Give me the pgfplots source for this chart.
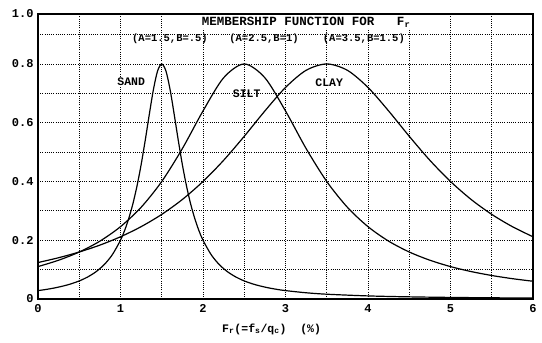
\documentclass[border=0pt]{standalone}
\usepackage{fontspec}
\setmainfont{Liberation Mono}
\usepackage{pgfplots}
\pgfplotsset{compat=1.18}
\begin{document}
\begin{tikzpicture}
\begin{axis}[
  scale only axis, width=495pt, height=285pt,
  xmin=0, xmax=6, ymin=0, ymax=0.97,
  axis line style={line width=1.5pt},
  xtick={0,1,2,3,4,5,6},
  minor xtick={0.5,1.5,2.5,3.5,4.5,5.5},
  ytick={0,0.2,0.4,0.6,0.8}, yticklabels={0,0.2,0.4,0.6,0.8},
  minor ytick={0.1,0.3,0.5,0.7,0.9},
  extra y ticks={0.97}, extra y tick labels={1.0},
  extra y tick style={grid=none},
  grid=both,
  major grid style={black, line width=0.9pt, dash pattern=on 0.9pt off 1.3pt},
  minor grid style={black, line width=0.9pt, dash pattern=on 0.9pt off 1.3pt},
  major tick length=0pt, minor tick length=0pt,
  tick style={draw=none},
  /pgf/number format/assume math mode=true,
  ticklabel style={font=\bfseries\fontsize{12}{12}\selectfont},
  xticklabel style={yshift=-2pt},
  yticklabel style={xshift=-1pt},
  xlabel={F\textsubscript{r}(=f\textsubscript{s}/q\textsubscript{c})\ \ (\%)},
  xlabel style={font=\bfseries\fontsize{11.5}{11.5}\selectfont, at={(axis description cs:0.472,0)}, anchor=center, yshift=-30pt},
  clip=false,
]
\coordinate (sw) at (rel axis cs:0,0);
\coordinate (ne) at (rel axis cs:1,1);
% SAND (A=1.5, B=.5)
\addplot[black, line width=1.2pt, smooth] coordinates {
(0,0.0286) (0.1,0.0326) (0.2,0.0376) (0.3,0.0438) (0.4,0.0515) (0.5,0.0615)
(0.6,0.0746) (0.7,0.0922) (0.8,0.1163) (0.9,0.1504) (1.0,0.2) (1.05,0.2332)
(1.1,0.274) (1.15,0.3239) (1.2,0.3846) (1.25,0.4571) (1.3,0.5405) (1.35,0.6299)
(1.4,0.7143) (1.45,0.7767) (1.5,0.8) (1.55,0.7767) (1.6,0.7143) (1.65,0.6299)
(1.7,0.5405) (1.75,0.4571) (1.8,0.3846) (1.85,0.3239) (1.9,0.274) (1.95,0.2332)
(2.0,0.2) (2.1,0.1504) (2.2,0.1163) (2.3,0.0922) (2.4,0.0746) (2.5,0.0615)
(2.6,0.0515) (2.7,0.0438) (2.8,0.0376) (2.9,0.0326) (3.0,0.0286) (3.25,0.0212)
(3.5,0.0163) (4.0,0.0105) (4.5,0.0073) (5.0,0.0054) (5.5,0.0041) (6.0,0.0033)
};
% SILT (A=2.5, B=1)
\addplot[black, line width=1.2pt, smooth] coordinates {
(0,0.1103) (0.25,0.1320) (0.5,0.16) (0.75,0.1969) (1.0,0.2462) (1.25,0.3122)
(1.5,0.4) (1.75,0.512) (2.0,0.64) (2.25,0.7529) (2.5,0.8) (2.75,0.7529)
(3.0,0.64) (3.25,0.512) (3.5,0.4) (3.75,0.3122) (4.0,0.2462) (4.25,0.1969)
(4.5,0.16) (4.75,0.1320) (5.0,0.1103) (5.25,0.0934) (5.5,0.08) (5.75,0.0692)
(6.0,0.0604)
};
% CLAY (A=3.5, B=1.5)
\addplot[black, line width=1.2pt, smooth] coordinates {
(0,0.1241) (0.25,0.1405) (0.5,0.16) (0.75,0.1834) (1.0,0.2118) (1.25,0.2462)
(1.5,0.288) (1.75,0.3388) (2.0,0.4) (2.25,0.4721) (2.5,0.5538) (2.75,0.64)
(3.0,0.72) (3.25,0.7784) (3.5,0.8) (3.75,0.7784) (4.0,0.72) (4.25,0.64)
(4.5,0.5538) (4.75,0.4721) (5.0,0.4) (5.25,0.3388) (5.5,0.288) (5.75,0.2462)
(6.0,0.2118)
};
\node[font=\bfseries\fontsize{12.5}{12.5}\selectfont, fill=white, inner sep=1pt] at (axis cs:3.25,0.943) {MEMBERSHIP FUNCTION FOR\ \ \ F\textsubscript{r}};
\node[font=\bfseries\fontsize{10.5}{10.5}\selectfont, inner sep=0pt] at (axis cs:1.6,0.885) {(A=1.5,B=.5)};
\node[font=\bfseries\fontsize{10.5}{10.5}\selectfont, inner sep=0pt] at (axis cs:2.74,0.885) {(A=2.5,B=1)};
\node[font=\bfseries\fontsize{10.5}{10.5}\selectfont, inner sep=0pt] at (axis cs:3.95,0.885) {(A=3.5,B=1.5)};
\node[font=\bfseries\fontsize{11.5}{11.5}\selectfont, fill=white, inner sep=1pt] at (axis cs:1.13,0.74) {SAND};
\node[font=\bfseries\fontsize{11.5}{11.5}\selectfont, inner sep=1pt] at (axis cs:2.53,0.70) {SILT};
\node[font=\bfseries\fontsize{11.5}{11.5}\selectfont, fill=white, inner sep=1pt] at (axis cs:3.53,0.735) {CLAY};
\end{axis}
\pgfresetboundingbox
\path ([xshift=-38pt,yshift=-43pt]sw) rectangle ([xshift=9pt,yshift=14pt]ne);
\end{tikzpicture}
\end{document}
